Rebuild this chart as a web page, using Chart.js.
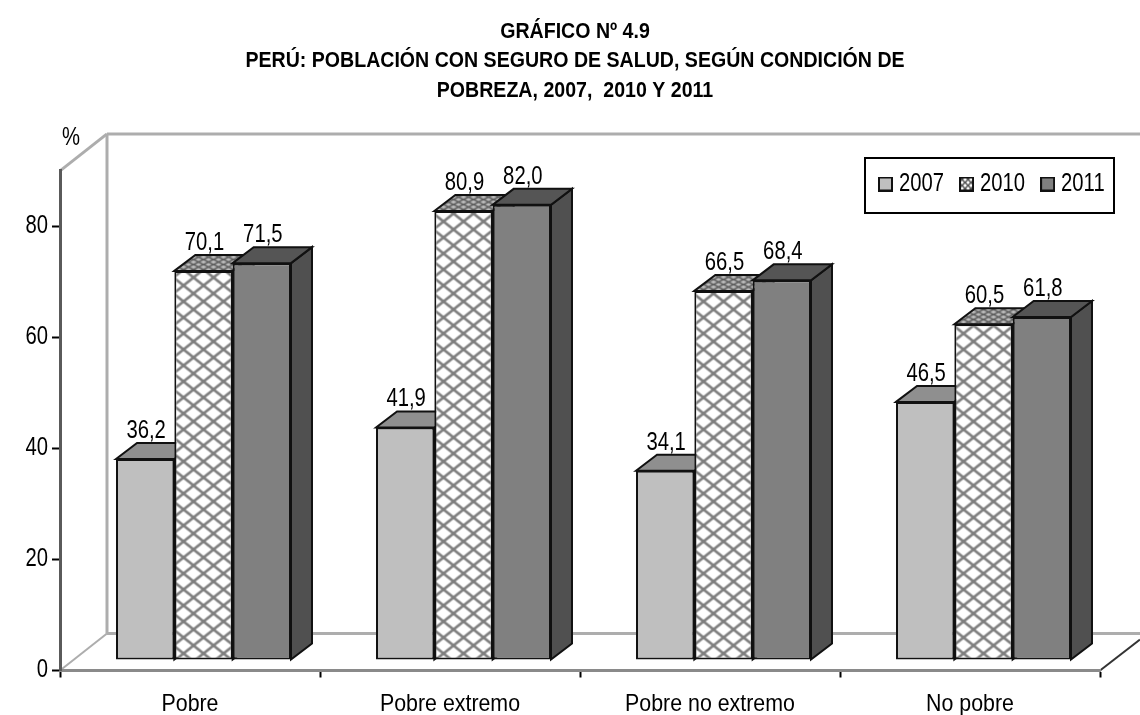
<!DOCTYPE html>
<html>
<head>
<meta charset="utf-8">
<title>Gráfico 4.9</title>
<script src="https://cdn.jsdelivr.net/npm/chart.js@4"></script>
<style>
  html, body { margin: 0; background: #fff; }
  canvas { display: block; }
</style>
</head>
<body>
<canvas id="chart" width="1140" height="715"></canvas>
<script>
// ── Data ────────────────────────────────────
const CATEGORIES = ["Pobre", "Pobre extremo", "Pobre no extremo", "No pobre"];
const SERIES_NAMES = ["2007", "2010", "2011"];
const VALUES_2007 = [36.2, 41.9, 34.1, 46.5];
const VALUES_2010 = [70.1, 80.9, 66.5, 60.5];
const VALUES_2011 = [71.5, 82.0, 68.4, 61.8];
const TITLE_LINES = [
  "GRÁFICO Nº 4.9",
  "PERÚ: POBLACIÓN CON SEGURO DE SALUD, SEGÚN CONDICIÓN DE",
  "POBREZA, 2007,  2010 Y 2011",
];

const FONT = '"Liberation Sans", Arial, sans-serif';
const FONT_SIZE = 25;
const BAR_SHIFT = { x: 13.5, y: -10.5 }; // bars stand a bit inside the floor
const BAR_DEPTH = { x: 21, y: -16 };
const WALL_DEPTH = { x: 47, y: -37 };

// no narrow font installed: condense the text through fillText's maxWidth
const canvas = document.getElementById("chart");
const ctx2d = canvas.getContext("2d");
const rawFill = ctx2d.fillText.bind(ctx2d);
const rawMeasure = ctx2d.measureText.bind(ctx2d);
const squeeze = (text) => (/[A-Za-z]/.test(text) ? 0.89 : 0.81);
ctx2d.measureText = (text) => ({ width: rawMeasure(text).width * squeeze(text) });
ctx2d.fillText = (text, x, y) => rawFill(text, x, y, rawMeasure(text).width * squeeze(text));

function hatch(w, h, bg, line, lw) {
  const c = document.createElement("canvas");
  c.width = w;
  c.height = h;
  const g = c.getContext("2d");
  g.fillStyle = bg;
  g.fillRect(0, 0, w, h);
  g.strokeStyle = line;
  g.lineWidth = lw;
  g.beginPath();
  g.moveTo(0, 0);
  g.lineTo(w, h);
  g.moveTo(0, h);
  g.lineTo(w, 0);
  g.stroke();
  return g.createPattern(c, "repeat");
}

const frontHatch = hatch(20, 16, "#ffffff", "#7f7f7f", 2.6);
const topHatch = hatch(10, 5, "#bdbdbd", "#5a5a5a", 1.5);
const FRONT = ["#bfbfbf", frontHatch, "#808080"];
const TOPS = ["#8f8f8f", topHatch, "#555555"];
const SIDES = ["#6f6f6f", "#777777", "#505050"];

function swatch(fill) {
  const c = document.createElement("canvas");
  c.width = 15;
  c.height = 15;
  const g = c.getContext("2d");
  g.fillStyle = fill;
  g.fillRect(0, 0, 15, 15);
  g.strokeStyle = "#111";
  g.lineWidth = 2;
  g.strokeRect(1, 1, 13, 13);
  return c;
}
const SWATCHES = [swatch(FRONT[0]), swatch(hatch(6, 6, "#ffffff", "#555555", 1.5)), swatch(FRONT[2])];

function poly(ctx, pts, fill) {
  ctx.beginPath();
  pts.forEach((p, i) => (i ? ctx.lineTo(p[0], p[1]) : ctx.moveTo(p[0], p[1])));
  ctx.closePath();
  ctx.fillStyle = fill;
  ctx.fill();
  ctx.strokeStyle = "#111";
  ctx.lineWidth = 2;
  ctx.stroke();
}

function line(ctx, x1, y1, x2, y2) {
  ctx.beginPath();
  ctx.moveTo(x1, y1);
  ctx.lineTo(x2, y2);
  ctx.stroke();
}

// walls, floor, legend frame and the "%" label
const framePlugin = {
  id: "frame",
  beforeDraw(chart) {
    const { ctx, chartArea: a } = chart;
    const bx = a.left + WALL_DEPTH.x;
    const ty = a.top + WALL_DEPTH.y;
    const by = a.bottom + WALL_DEPTH.y;
    ctx.save();
    ctx.strokeStyle = "#adadad";
    ctx.lineWidth = 3;
    line(ctx, bx, ty, 1140, ty);
    line(ctx, bx, ty, bx, by);
    line(ctx, bx, by, 1140, by);
    line(ctx, a.left, a.top, bx, ty);
    ctx.lineWidth = 2;
    line(ctx, a.left, a.bottom, bx, by);
    ctx.strokeStyle = "#333";
    line(ctx, a.right, a.bottom, 1140, a.bottom - 31);
    ctx.lineWidth = 2;
    ctx.strokeStyle = "#000";
    ctx.fillStyle = "#fff";
    ctx.fillRect(865, 158, 249, 55);
    ctx.strokeRect(865, 158, 249, 55);
    ctx.fillStyle = "#000";
    ctx.font = FONT_SIZE + "px " + FONT;
    ctx.textAlign = "center";
    ctx.textBaseline = "middle";
    ctx.fillText("%", 71, 138);
    ctx.restore();
    // legend sits inside the plot, over the back wall; title is off-centre in the source
    const lg = chart.legend;
    lg.left = 863;
    lg.right = 1300;
    lg.top = 150;
    lg.bottom = 218;
    chart.titleBlock.left = 50;
  },
  beforeDatasetsDraw(chart) {
    const { ctx } = chart;
    ctx.save();
    ctx.translate(BAR_SHIFT.x, BAR_SHIFT.y);
    // sides and tops first, left to right, the front faces then cover what is hidden
    chart.data.datasets.forEach((ds, di) => {
      chart.getDatasetMeta(di).data.forEach((bar) => {
        const l = bar.x - bar.width / 2;
        const r = bar.x + bar.width / 2;
        const dx = BAR_DEPTH.x;
        const dy = BAR_DEPTH.y;
        poly(ctx, [[r, bar.y], [r + dx, bar.y + dy], [r + dx, bar.base + dy], [r, bar.base]], SIDES[di]);
        poly(ctx, [[l, bar.y], [l + dx, bar.y + dy], [r + dx, bar.y + dy], [r, bar.y]], TOPS[di]);
      });
    });
  },
  afterDatasetsDraw(chart) {
    const { ctx } = chart;
    ctx.font = FONT_SIZE + "px " + FONT;
    ctx.fillStyle = "#000";
    ctx.textAlign = "center";
    ctx.textBaseline = "middle";
    chart.data.datasets.forEach((ds, di) => {
      chart.getDatasetMeta(di).data.forEach((bar, i) => {
        ctx.fillText(ds.data[i].toFixed(1).replace(".", ","), bar.x + 1, bar.y - 28);
      });
    });
    ctx.restore();
  },
};

Chart.defaults.font.family = FONT;
Chart.defaults.font.size = FONT_SIZE;
Chart.defaults.color = "#000";

new Chart(canvas, {
  type: "bar",
  data: {
    labels: CATEGORIES,
    datasets: [VALUES_2007, VALUES_2010, VALUES_2011].map((vals, i) => ({
      label: SERIES_NAMES[i],
      data: vals,
      backgroundColor: FRONT[i],
      borderColor: "#111",
      borderWidth: 2,
      borderSkipped: false,
      categoryPercentage: 0.673,
      barPercentage: 1,
      clip: false,
    })),
  },
  options: {
    responsive: false,
    animation: false,
    layout: { padding: { top: 17, right: 40, left: 0, bottom: 0 } },
    plugins: {
      title: {
        display: true,
        text: TITLE_LINES,
        font: { size: 22, weight: "bold", lineHeight: 1.34 },
        padding: { top: 0, bottom: 9 },
      },
      legend: {
        position: "top",
        align: "start",
        labels: {
          font: { size: 25 },
          usePointStyle: true,
          pointStyleWidth: 2,
          padding: 21.5,
          generateLabels: () =>
            SERIES_NAMES.map((n, i) => ({ text: n, pointStyle: SWATCHES[i], datasetIndex: i, fontColor: "#000" })),
        },
      },
      tooltip: { enabled: false },
    },
    scales: {
      x: {
        grid: { drawOnChartArea: false, tickColor: "#000", tickLength: 7, tickWidth: 2 },
        border: { color: "#8a8a8a", width: 3 },
        ticks: { padding: 12, maxRotation: 0, font: { size: 24 } },
        afterFit: (s) => { s.height = 44.5; },
      },
      y: {
        min: 0,
        max: 90,
        grid: { drawOnChartArea: false, tickColor: "#000", tickLength: 8, tickWidth: 2 },
        border: { color: "#5a5a5a", width: 3 },
        ticks: { stepSize: 20, includeBounds: false, padding: 4 },
        afterFit: (s) => { s.width = 60; },
      },
    },
  },
  plugins: [framePlugin],
});
</script>
</body>
</html>
